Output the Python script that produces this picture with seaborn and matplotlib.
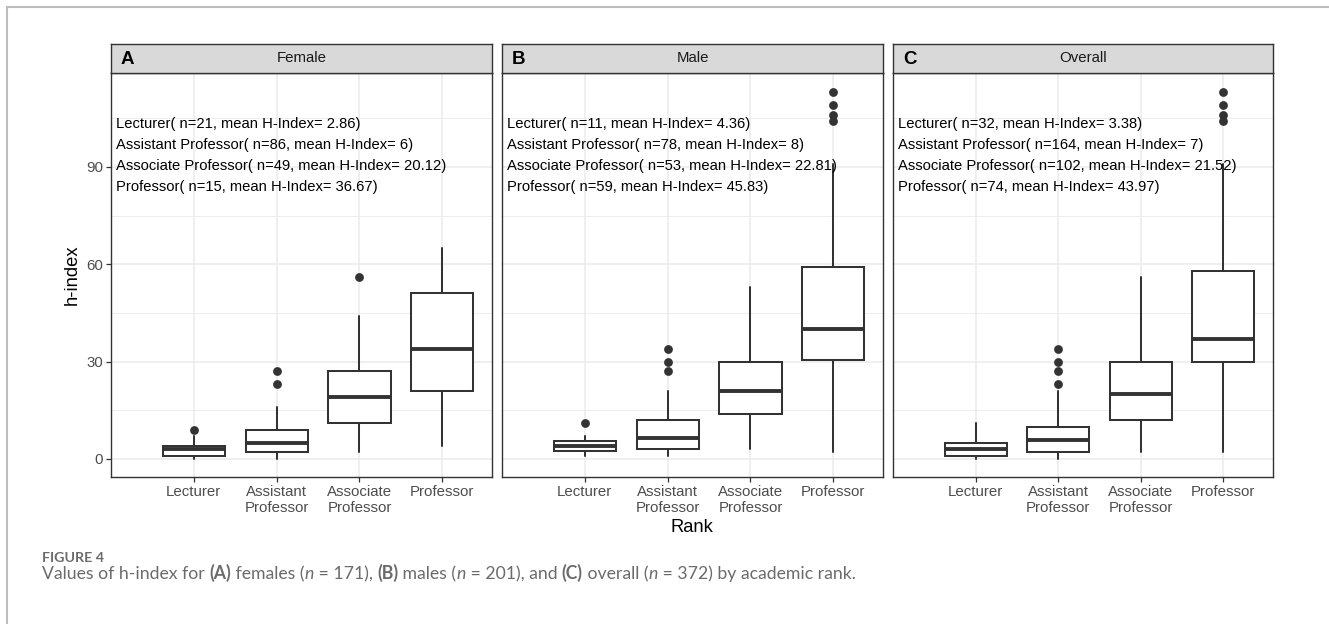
import matplotlib
matplotlib.use("Agg")
import matplotlib.pyplot as plt
import seaborn as sns
import pandas as pd
from matplotlib.lines import Line2D

# ---------------- data ----------------
rank_labels = ["Lecturer", "Assistant\nProfessor", "Associate\nProfessor", "Professor"]
rank_names = ["Lecturer", "Assistant Professor", "Associate Professor", "Professor"]
panel_names = ["Female", "Male", "Overall"]
panel_letters = ["A", "B", "C"]

female_whislo = [0, 0, 2, 4]
female_q1 = [1, 2, 11, 21]
female_med = [3, 5, 19, 34]
female_q3 = [4, 9, 27, 51]
female_whishi = [7, 16, 44, 65]
female_outliers = [[9], [23, 27], [56], []]
female_n = [21, 86, 49, 15]
female_mean = [2.86, 6, 20.12, 36.67]

male_whislo = [1, 1, 3, 2]
male_q1 = [2.5, 3, 14, 30.5]
male_med = [4, 6.5, 21, 40]
male_q3 = [5.5, 12, 30, 59]
male_whishi = [7, 21, 53, 91]
male_outliers = [[11], [27, 30, 34], [], [104, 106, 109, 113]]
male_n = [11, 78, 53, 59]
male_mean = [4.36, 8, 22.81, 45.83]

overall_whislo = [0, 0, 2, 2]
overall_q1 = [1, 2, 12, 30]
overall_med = [3, 6, 20, 37]
overall_q3 = [5, 10, 30, 58]
overall_whishi = [11, 21, 56, 91]
overall_outliers = [[], [23, 27, 30, 34], [], [104, 106, 109, 113]]
overall_n = [32, 164, 102, 74]
overall_mean = [3.38, 7, 21.52, 43.97]

y_ticks = [0, 30, 60, 90]
y_minor = [15, 45, 75, 105]
text_y = [102.1, 95.6, 88.9, 82.4]

x_title = "Rank"
y_title = "h-index"
caption_head = "FIGURE 4"
caption_parts = [
    ("Values of h-index for ", "normal", "normal"),
    ("(A)", "bold", "normal"),
    (" females (", "normal", "normal"),
    ("n", "normal", "italic"),
    (" = 171), ", "normal", "normal"),
    ("(B)", "bold", "normal"),
    (" males (", "normal", "normal"),
    ("n", "normal", "italic"),
    (" = 201), and ", "normal", "normal"),
    ("(C)", "bold", "normal"),
    (" overall (", "normal", "normal"),
    ("n", "normal", "italic"),
    (" = 372) by academic rank.", "normal", "normal"),
]

panels = [
    (female_whislo, female_q1, female_med, female_q3, female_whishi, female_outliers, female_n, female_mean),
    (male_whislo, male_q1, male_med, male_q3, male_whishi, male_outliers, male_n, male_mean),
    (overall_whislo, overall_q1, overall_med, overall_q3, overall_whishi, overall_outliers, overall_n, overall_mean),
]

# ---------------- style ----------------
sns.set_theme(style="whitegrid")
plt.rcParams["font.family"] = ["Liberation Sans", "DejaVu Sans"]

W, H = 1329, 624
fig = plt.figure(figsize=(W / 100, H / 100), dpi=100)
fig.patch.set_facecolor("white")


def frac(x0, y0, x1, y1):
    return [x0 / W, 1 - y1 / H, (x1 - x0) / W, (y1 - y0) / H]


DARK = "#333333"
GRID = "#EBEBEB"
panel_x = [(111, 492), (502, 883), (893, 1273)]
plot_top, plot_bot = 73, 477
strip_top = 44

for i, ((x0, x1), stats) in enumerate(zip(panel_x, panels)):
    whislo, q1, med, q3, whishi, outl, ns, means = stats
    ax = fig.add_axes(frac(x0, plot_top, x1, plot_bot))
    ax.set_facecolor("white")
    ax.set_axisbelow(True)

    bstats = []
    for k in range(len(rank_names)):
        bstats.append(dict(med=med[k], q1=q1[k], q3=q3[k], whislo=whislo[k],
                           whishi=whishi[k], fliers=[], label=rank_labels[k]))
    ax.bxp(bstats, positions=range(len(rank_names)), widths=0.75,
           showfliers=False, showcaps=False, patch_artist=True,
           boxprops=dict(facecolor="white", edgecolor=DARK, linewidth=1.45),
           medianprops=dict(color=DARK, linewidth=2.8, solid_capstyle="butt"),
           whiskerprops=dict(color=DARK, linewidth=1.45))

    pts = pd.DataFrame([(k, v) for k in range(len(rank_names)) for v in outl[k]],
                       columns=["pos", "value"])
    if len(pts):
        sns.scatterplot(data=pts, x="pos", y="value", ax=ax, color=DARK, s=40,
                        linewidth=0, legend=False, zorder=4)

    for k in range(len(rank_names)):
        ax.text(-0.94, text_y[k],
                f"{rank_names[k]}( n={ns[k]}, mean H-Index= {means[k]:g})",
                ha="left", va="baseline", fontsize=10.6, color="black", zorder=5)

    ax.set_xlim(-1.0, 3.6)
    ax.set_ylim(-5.55, 118.9)
    ax.set_xticks(range(len(rank_labels)))
    ax.set_xticklabels(rank_labels, linespacing=1.2)
    ax.set_yticks(y_ticks)
    ax.set_yticks(y_minor, minor=True)
    ax.set_xlabel("")
    ax.set_ylabel("")
    ax.grid(which="major", color=GRID, linewidth=1.1)
    ax.grid(which="minor", axis="y", color=GRID, linewidth=0.6)
    ax.tick_params(axis="x", which="major", length=3.5, width=0.9, color=DARK,
                   labelsize=10.8, labelcolor="#4D4D4D", pad=2, bottom=True)
    ax.tick_params(axis="y", which="major", length=3.5, width=0.9, color=DARK,
                   labelsize=10.8, labelcolor="#4D4D4D", pad=2, left=True)
    ax.tick_params(which="minor", length=0)
    if i > 0:
        ax.tick_params(axis="y", which="major", length=0, labelleft=False)
    for sp in ax.spines.values():
        sp.set_visible(True)
        sp.set_color(DARK)
        sp.set_linewidth(1.0)

    # strip
    sax = fig.add_axes(frac(x0, strip_top, x1, plot_top))
    sax.set_facecolor("#D9D9D9")
    sax.set_xticks([])
    sax.set_yticks([])
    sax.grid(False)
    for sp in sax.spines.values():
        sp.set_visible(True)
        sp.set_color(DARK)
        sp.set_linewidth(1.0)
    sax.text(0.5, 0.5, panel_names[i], ha="center", va="center",
             fontsize=10.8, color="#1A1A1A", transform=sax.transAxes)
    sax.text(10 / (x1 - x0), 0.47, panel_letters[i], ha="left", va="center",
             fontsize=13.5, fontweight="bold", color="black", transform=sax.transAxes)

# axis titles
fig.text(692 / W, 1 - 528 / H, x_title, ha="center", va="center", fontsize=13.2, color="black")
fig.text(72 / W, 1 - 275 / H, y_title, ha="center", va="center", rotation=90,
         fontsize=13.2, color="black")

# outer frame (top and left lines)
fig.add_artist(Line2D([7 / W, 1.0], [1 - 7 / H, 1 - 7 / H], transform=fig.transFigure,
                      color="#BDBDBD", linewidth=1.5))
fig.add_artist(Line2D([7 / W, 7 / W], [0.0, 1 - 7 / H], transform=fig.transFigure,
                      color="#BDBDBD", linewidth=1.5))

# caption
CAP_FONT = ["Lato", "Open Sans", "DejaVu Sans"]
CAP_COL = "#6B6B6B"
fig.text(42 / W, 1 - 561.7 / H, caption_head, ha="left", va="baseline",
         fontsize=10.3, fontweight="bold", color=CAP_COL, family=CAP_FONT)

fig.canvas.draw()
renderer = fig.canvas.get_renderer()


def seg_width(s, weight, style, size):
    t1 = fig.text(0, 0, "|" + s + "|", fontsize=size, fontweight=weight,
                  fontstyle=style, family=CAP_FONT)
    t2 = fig.text(0, 0, "||", fontsize=size, fontweight=weight,
                  fontstyle=style, family=CAP_FONT)
    w = t1.get_window_extent(renderer).width - t2.get_window_extent(renderer).width
    t1.remove()
    t2.remove()
    return w


cap_size = 12.7
xpos = 42.0
for s, weight, style in caption_parts:
    fig.text(xpos / W, 1 - 579.3 / H, s, ha="left", va="baseline", fontsize=cap_size,
             fontweight=weight, fontstyle=style, color=CAP_COL, family=CAP_FONT)
    xpos += seg_width(s, weight, style, cap_size)

fig.savefig("out.png", dpi=100, facecolor="white")
